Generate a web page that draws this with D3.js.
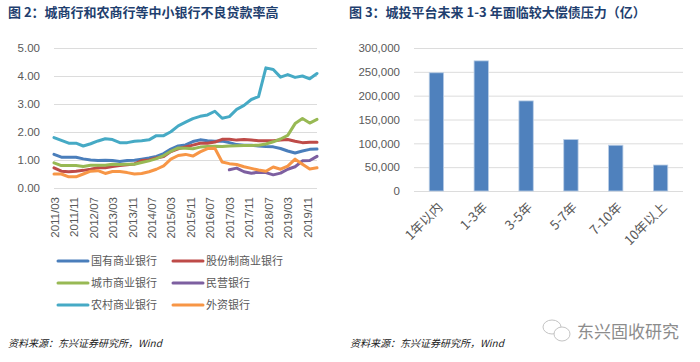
<!DOCTYPE html>
<html>
<head>
<meta charset="utf-8">
<script src="https://cdn.jsdelivr.net/npm/d3@7"></script>
<style>
html, body { margin: 0; padding: 0; background: #fff; }
svg { display: block; }
text { font-family: "Liberation Sans", "Noto Sans CJK SC", sans-serif; }
.cjk { font-family: "Noto Sans CJK SC", sans-serif; }
</style>
</head>
<body>
<svg id="chart" width="700" height="362"></svg>
<script>
"use strict"

// quarter ends, 2011/03 to 2020/03
var quarters = [
    "2011/03", "2011/06", "2011/09", "2011/12",
    "2012/03", "2012/06", "2012/09", "2012/12",
    "2013/03", "2013/06", "2013/09", "2013/12",
    "2014/03", "2014/06", "2014/09", "2014/12",
    "2015/03", "2015/06", "2015/09", "2015/12",
    "2016/03", "2016/06", "2016/09", "2016/12",
    "2017/03", "2017/06", "2017/09", "2017/12",
    "2018/03", "2018/06", "2018/09", "2018/12",
    "2019/03", "2019/06", "2019/09", "2019/12",
    "2020/03"
];

var stateBanks = [1.20, 1.10, 1.10, 1.10, 1.04, 1.00, 0.98, 0.99, 0.98, 0.95, 0.98, 0.99, 1.03, 1.07, 1.13, 1.23, 1.39, 1.50, 1.54, 1.66, 1.72, 1.69, 1.67, 1.68, 1.62, 1.55, 1.53, 1.53, 1.50, 1.48, 1.47, 1.41, 1.32, 1.25, 1.32, 1.38, 1.39];
var jointStock = [0.72, 0.60, 0.58, 0.60, 0.63, 0.67, 0.72, 0.72, 0.77, 0.80, 0.83, 0.86, 0.98, 1.00, 1.07, 1.12, 1.30, 1.40, 1.47, 1.53, 1.60, 1.60, 1.64, 1.74, 1.74, 1.71, 1.73, 1.71, 1.69, 1.69, 1.69, 1.71, 1.73, 1.67, 1.62, 1.63, 1.63];
var cityBanks = [0.90, 0.80, 0.80, 0.80, 0.77, 0.81, 0.81, 0.81, 0.85, 0.84, 0.85, 0.85, 0.91, 0.97, 1.05, 1.16, 1.31, 1.43, 1.42, 1.40, 1.46, 1.48, 1.49, 1.48, 1.50, 1.51, 1.52, 1.52, 1.53, 1.57, 1.65, 1.75, 1.88, 2.30, 2.48, 2.32, 2.45];
var privateBanks = [null, null, null, null, null, null, null, null, null, null, null, null, null, null, null, null, null, null, null, null, null, null, null, null, 0.65, 0.71, 0.58, 0.53, 0.56, 0.55, 0.47, 0.53, 0.67, 0.76, 0.97, 0.98, 1.13];
var ruralBanks = [1.80, 1.70, 1.60, 1.60, 1.50, 1.58, 1.68, 1.76, 1.73, 1.62, 1.62, 1.67, 1.69, 1.72, 1.87, 1.87, 2.01, 2.22, 2.35, 2.48, 2.56, 2.61, 2.74, 2.49, 2.55, 2.81, 2.95, 3.16, 3.26, 4.29, 4.23, 3.96, 4.05, 3.95, 4.00, 3.90, 4.09];
var foreignBanks = [0.50, 0.50, 0.40, 0.40, 0.50, 0.60, 0.62, 0.52, 0.59, 0.59, 0.55, 0.50, 0.52, 0.58, 0.67, 0.79, 1.03, 1.16, 1.20, 1.14, 1.29, 1.41, 1.42, 0.93, 0.87, 0.84, 0.76, 0.70, 0.64, 0.60, 0.75, 0.67, 0.78, 1.03, 0.85, 0.68, 0.72];

var lineNames = ["国有商业银行", "股份制商业银行", "城市商业银行", "民营银行", "农村商业银行", "外资银行"];
var lineValues = [stateBanks, jointStock, cityBanks, privateBanks, ruralBanks, foreignBanks];
var lineColors = ["#4a7ebb", "#be4b48", "#98b954", "#7d5fa0", "#46aac5", "#f79646"];

var dateTicks = ["2011/03", "2011/11", "2012/07", "2013/03", "2013/11", "2014/07", "2015/03", "2015/11", "2016/07", "2017/03", "2017/11", "2018/07", "2019/03", "2019/11"];
var rateTicks = [0, 1, 2, 3, 4, 5];

var termNames = ["1年以内", "1-3年", "3-5年", "5-7年", "7-10年", "10年以上"];
var termValues = [248000, 273000, 189000, 108000, 96000, 54500];
var amountTicks = [0, 50000, 100000, 150000, 200000, 250000, 300000];

// full width punctuation, same as the original captions
var titleLeft = "图 2\uFF1A城商行和农商行等中小银行不良贷款率高";
var titleRight = "图 3\uFF1A城投平台未来 1-3 年面临较大偿债压力\uFF08亿\uFF09";
var sourceNote = "资料来源\uFF1A东兴证券研究所\uFF0CWind";
var watermark = "东兴固收研究";

var titleColor = "#1f3f6f";
var gridColor = "#dcdcdc";
var labelColor = "#595959";

var svg = d3.select("#chart");
var parseMonth = d3.utcParse("%Y/%m");

// left chart
var xLine = d3.scaleUtc()
    .domain([parseMonth(quarters[0]), parseMonth(quarters[quarters.length - 1])])
    .range([54, 317]);
var yLine = d3.scaleLinear().domain([0, 5]).range([188, 48]);

var yAxisLeft = d3.axisLeft(yLine)
    .tickValues(rateTicks)
    .tickFormat(d3.format(".2f"))
    .tickSize(-263)
    .tickPadding(14);

var gLeft = svg.append("g").attr("transform", "translate(54,0)").call(yAxisLeft);
styleAxis(gLeft);
gLeft.selectAll("text").attr("font-size", 11.5);

var xAxisLeft = d3.axisBottom(xLine)
    .tickValues(dateTicks.map(parseMonth))
    .tickFormat(d3.utcFormat("%Y/%m"))
    .tickSize(0);

var gDates = svg.append("g").attr("transform", "translate(0,188)").call(xAxisLeft);
gDates.select(".domain").remove();
gDates.selectAll("text")
    .attr("font-size", 11.5)
    .attr("fill", labelColor)
    .attr("text-anchor", "end")
    .attr("dx", 0)
    .attr("dy", 0)
    .attr("transform", "translate(1,9) rotate(-90)");

var line = d3.line()
    .defined(function (d) { return d !== null; })
    .x(function (d, i) { return xLine(parseMonth(quarters[i])); })
    .y(function (d) { return yLine(d); });

svg.append("g").selectAll("path")
    .data(lineValues)
    .enter()
    .append("path")
    .attr("d", line)
    .attr("fill", "none")
    .attr("stroke", function (d, i) { return lineColors[i]; })
    .attr("stroke-width", 3)
    .attr("stroke-linejoin", "round")
    .attr("stroke-linecap", "round");

// legend, two columns and three rows
var legendX = d3.scalePoint().domain([0, 1]).range([58, 173]);
var legendY = d3.scalePoint().domain([0, 1, 2]).range([261, 305]);

var legend = svg.append("g").selectAll("g")
    .data(lineNames)
    .enter()
    .append("g")
    .attr("transform", function (d, i) {
        return "translate(" + legendX(i % 2) + "," + legendY(Math.floor(i / 2)) + ")";
    });

legend.append("line")
    .attr("x2", 30)
    .attr("stroke", function (d, i) { return lineColors[i]; })
    .attr("stroke-width", 3)
    .attr("stroke-linecap", "round");

legend.append("text")
    .attr("class", "cjk")
    .attr("x", 33)
    .attr("y", 4)
    .attr("font-size", 11)
    .attr("fill", labelColor)
    .text(function (d) { return d; });

// right chart
var xBar = d3.scaleBand().domain(termNames).range([414, 683]).paddingInner(0.68).paddingOuter(0.34);
var yBar = d3.scaleLinear().domain([0, 300000]).range([191, 48]);

var yAxisRight = d3.axisLeft(yBar)
    .tickValues(amountTicks)
    .tickFormat(d3.format(","))
    .tickSize(-269)
    .tickPadding(14);

var gRight = svg.append("g").attr("transform", "translate(414,0)").call(yAxisRight);
styleAxis(gRight);
gRight.selectAll("text").attr("font-size", 11.5);

svg.append("g").selectAll("rect")
    .data(termValues)
    .enter()
    .append("rect")
    .attr("x", function (d, i) { return xBar(termNames[i]); })
    .attr("y", function (d) { return yBar(d); })
    .attr("width", xBar.bandwidth())
    .attr("height", function (d) { return yBar(0) - yBar(d); })
    .attr("fill", "#4f81bd")
    .attr("stroke", "#b9cde5")
    .attr("stroke-width", 0.8);

var xAxisRight = d3.axisBottom(xBar).tickSize(0);
var gTerms = svg.append("g").attr("transform", "translate(0,191)").call(xAxisRight);
gTerms.select(".domain").remove();
gTerms.selectAll("text")
    .attr("class", "cjk")
    .attr("font-size", 13)
    .attr("fill", labelColor)
    .attr("text-anchor", "end")
    .attr("dx", 0)
    .attr("dy", 0)
    .attr("transform", "translate(5,15) rotate(-45)");

// titles and source lines
addText(8, 17, titleLeft, 13, titleColor, "bold");
addText(349, 17, titleRight, 13, titleColor, "bold");
addText(8, 347, sourceNote, 10, "#222", "normal").attr("font-style", "italic");
addText(350, 347, sourceNote, 10, "#222", "normal").attr("font-style", "italic");

// watermark, the wechat mark is two outlined bubbles
var mark = svg.append("g")
    .attr("fill", "#fff")
    .attr("stroke", "#c4c4c4")
    .attr("stroke-width", 1);
mark.append("ellipse").attr("cx", 552).attr("cy", 327).attr("rx", 9).attr("ry", 7);
mark.append("ellipse").attr("cx", 562).attr("cy", 334).attr("rx", 8).attr("ry", 7);
addText(577, 338, watermark, 17, "#8c8c8c", "normal");

function styleAxis(g) {
    g.select(".domain").remove();
    g.selectAll(".tick line").attr("stroke", gridColor).attr("stroke-width", 1);
    g.selectAll(".tick text").attr("fill", labelColor);
}

function addText(x, y, str, size, color, weight) {
    return svg.append("text")
        .attr("class", "cjk")
        .attr("x", x)
        .attr("y", y)
        .attr("font-size", size)
        .attr("font-weight", weight)
        .attr("fill", color)
        .text(str);
}
</script>
</body>
</html>
